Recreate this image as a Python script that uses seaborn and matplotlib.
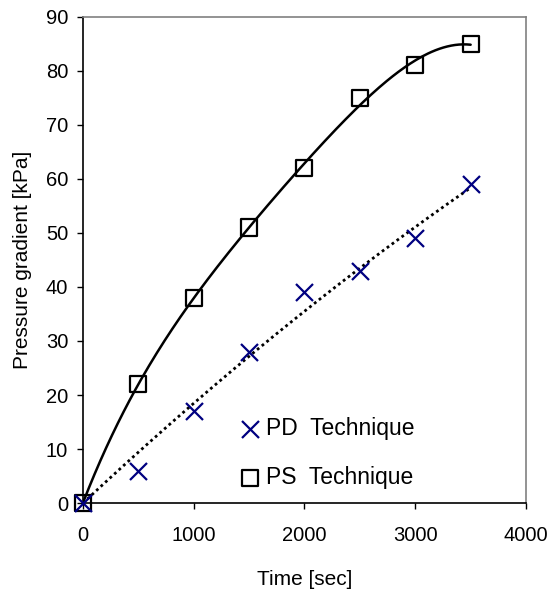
import numpy as np
import pandas as pd
import matplotlib
matplotlib.use("Agg")
import matplotlib.pyplot as plt
import seaborn as sns

# Data
time_sec = [0, 500, 1000, 1500, 2000, 2500, 3000, 3500]
pd_kpa = [0, 6, 17, 28, 39, 43, 49, 59]
ps_kpa = [0, 22, 38, 51, 62, 75, 81, 85]
x_ticks = [0, 1000, 2000, 3000, 4000]
y_ticks = [0, 10, 20, 30, 40, 50, 60, 70, 80, 90]

sns.set_style("white")
plt.rcParams['font.family'] = ['Liberation Sans', 'DejaVu Sans']
plt.rcParams['text.color'] = 'black'
plt.rcParams['axes.labelcolor'] = 'black'
plt.rcParams['xtick.color'] = 'black'
plt.rcParams['ytick.color'] = 'black'

df = pd.DataFrame({"t": time_sec, "PD": pd_kpa, "PS": ps_kpa})

# trend lines (polynomial fits through the origin, like the spreadsheet trendline)
t = np.array(time_sec, dtype=float) / 1000
tt = np.linspace(0, 3500, 200)
s = tt / 1000
A4 = np.column_stack([t, t**2, t**3, t**4])
c_ps = np.linalg.lstsq(A4, np.array(ps_kpa, float), rcond=None)[0]
ps_fit = c_ps[0] * s + c_ps[1] * s**2 + c_ps[2] * s**3 + c_ps[3] * s**4
A2 = np.column_stack([t, t**2])
c_pd = np.linalg.lstsq(A2, np.array(pd_kpa, float), rcond=None)[0]
pd_fit = c_pd[0] * s + c_pd[1] * s**2

fig = plt.figure(figsize=(5.52, 5.92), dpi=100)
ax = fig.add_axes([0.150, 0.150, 0.803, 0.822])

sns.lineplot(x=tt, y=ps_fit, ax=ax, color="black", lw=1.8, zorder=2)
sns.lineplot(x=tt, y=pd_fit, ax=ax, color="black", lw=2.0, linestyle=(0, (1, 1.2)), zorder=2)

sns.scatterplot(data=df, x="t", y="PD", ax=ax, marker="x", s=150, color="#000080",
                linewidth=1.6, label="PD  Technique", zorder=4, clip_on=False)
sns.scatterplot(data=df, x="t", y="PS", ax=ax, marker="s", s=135, facecolor="none",
                edgecolor="black", linewidth=1.6, label="PS  Technique", zorder=3, clip_on=False)

ax.set_xlim(0, 4000)
ax.set_ylim(0, 90)
ax.set_xticks(x_ticks)
ax.set_yticks(y_ticks)
ax.tick_params(axis="both", labelsize=14.5, direction="out", length=4.5, width=1,
               color="black", bottom=True, left=True)
ax.tick_params(axis="y", pad=6)
ax.tick_params(axis="x", pad=12)
ax.set_xlabel("Time [sec]", fontsize=15, labelpad=18)
ax.set_ylabel("Pressure gradient [kPa]", fontsize=15, labelpad=10)

for side in ["left", "bottom"]:
    ax.spines[side].set_color("black")
    ax.spines[side].set_linewidth(1.2)
for side in ["top", "right"]:
    ax.spines[side].set_color("#808080")
    ax.spines[side].set_linewidth(1.2)

leg = ax.legend(loc="center left", bbox_to_anchor=(0.322, 0.103), frameon=False,
                fontsize=16.5, handletextpad=0.0, labelspacing=1.1, handlelength=1.35,
                borderaxespad=0)

fig.savefig("out.png", dpi=100)
